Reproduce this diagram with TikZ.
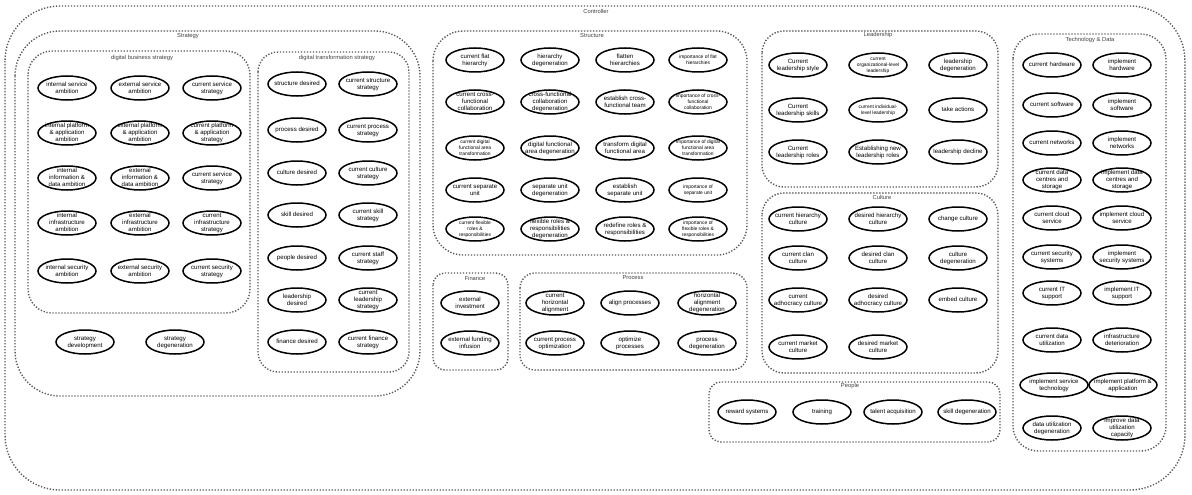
\documentclass[tikz,border=0pt]{standalone}
\usepackage{fontspec}
\setmainfont{Liberation Sans}
\usetikzlibrary{shapes.geometric}

% label of fixed size, centred in the ellipse
\newcommand{\elab}[1]{\raisebox{-0.5ex}[0pt][0pt]{\makebox[0pt]{\begin{tabular}{@{}c@{}}#1\end{tabular}}}}

\begin{document}
\begin{tikzpicture}[x=1pt,y=-1pt]
  \tikzstyle{ell}=[ellipse,draw,line width=1.5pt,minimum width=58pt,minimum height=24pt,inner sep=0pt,font=\fontsize{6.1}{7}\selectfont]
  \tikzstyle{ells}=[ell,font=\fontsize{4.9}{5.8}\selectfont]
  \tikzstyle{grp}=[draw=black!65,line width=1.4pt,dash pattern=on 1.3pt off 1.7pt]
  \tikzstyle{ttl}=[font=\fontsize{5.8}{6}\selectfont,text=black!75,inner sep=0pt]

  \useasboundingbox (0,0) rectangle (1192,495);

  % frames
  \draw[grp,rounded corners=55pt] (5,6) rectangle (1185,490);
  \node[ttl] (tctl) at (596,11) {Controller};
  \draw[grp,rounded corners=45pt] (15,31) rectangle (420,396);
  \node[ttl] (tstr) at (188,36) {Strategy};
  \draw[grp,rounded corners=24pt] (28,51) rectangle (250,313);
  \node[ttl] (tdbs) at (142,58) {digital business strategy};
  \draw[grp,rounded corners=20pt] (258,52) rectangle (409,372);
  \node[ttl] (tdts) at (337,58) {digital transformation strategy};
  \draw[grp,rounded corners=30pt] (433,31) rectangle (747,255);
  \node[ttl] (tstc) at (592,36) {Structure};
  \draw[grp,rounded corners=12pt] (433,273) rectangle (508,370);
  \node[ttl] (tfin) at (475,278) {Finance};
  \draw[grp,rounded corners=15pt] (520,273) rectangle (747,370);
  \node[ttl] (tpro) at (633,278) {Process};
  \draw[grp,rounded corners=22pt] (762,31) rectangle (998,187);
  \node[ttl] (tlea) at (878,35) {Leadership};
  \draw[grp,rounded corners=22pt] (762,193) rectangle (998,373);
  \node[ttl] (tcul) at (882,197) {Culture};
  \draw[grp,rounded corners=12pt] (709,382) rectangle (1000,442);
  \node[ttl] (tppl) at (850,386) {People};
  \draw[grp,rounded corners=25pt] (1013,34) rectangle (1166,451);
  \node[ttl] (ttec) at (1090,40) {Technology \& Data};

  % digital business strategy
  \node[ell] (isa) at (67,88) {\elab{internal service\\ambition}};
  \node[ell] (esa) at (140,88) {\elab{external service\\ambition}};
  \node[ell] (csa) at (212,88) {\elab{current service\\strategy}};
  \node[ell] (ipa) at (67,133) {\elab{internal platform\\\& application\\ambition}};
  \node[ell] (epa) at (140,133) {\elab{external platform\\\& application\\ambition}};
  \node[ell] (cpa) at (212,133) {\elab{current platform\\\& application\\strategy}};
  \node[ell] (iia) at (67,178) {\elab{internal\\information \&\\data ambition}};
  \node[ell] (eia) at (140,178) {\elab{external\\information \&\\data ambition}};
  \node[ell] (css) at (212,178) {\elab{current service\\strategy}};
  \node[ell] (iin) at (67,223) {\elab{internal\\infrastructure\\ambition}};
  \node[ell] (ein) at (140,223) {\elab{external\\infrastructure\\ambition}};
  \node[ell] (cin) at (212,223) {\elab{current\\infrastructure\\strategy}};
  \node[ell] (ise) at (67,271) {\elab{internal security\\ambition}};
  \node[ell] (ese) at (140,271) {\elab{external security\\ambition}};
  \node[ell] (cse) at (212,271) {\elab{current security\\strategy}};

  \node[ell] (sdev) at (85,342) {\elab{strategy\\development}};
  \node[ell] (sdeg) at (175,342) {\elab{strategy\\degeneration}};

  % digital transformation strategy
  \node[ell] (strd) at (297,84) {\elab{structure desired}};
  \node[ell] (cstr) at (368,84) {\elab{current structure\\strategy}};
  \node[ell] (prod) at (297,130) {\elab{process desired}};
  \node[ell] (cpro) at (368,130) {\elab{current process\\strategy}};
  \node[ell] (culd) at (297,173) {\elab{culture desired}};
  \node[ell] (ccul) at (368,173) {\elab{current culture\\strategy}};
  \node[ell] (skid) at (297,215) {\elab{skill desired}};
  \node[ell] (cski) at (368,215) {\elab{current skill\\strategy}};
  \node[ell] (peod) at (297,258) {\elab{people desired}};
  \node[ell] (csta) at (368,258) {\elab{current staff\\strategy}};
  \node[ell] (lead) at (297,300) {\elab{leadership\\desired}};
  \node[ell] (clea) at (368,300) {\elab{current\\leadership\\strategy}};
  \node[ell] (find) at (297,342) {\elab{finance desired}};
  \node[ell] (cfin) at (368,342) {\elab{current finance\\strategy}};

  % structure
  \node[ell] (cfh) at (475,60) {\elab{current flat\\hierarchy}};
  \node[ell] (hdeg) at (550,60) {\elab{hierarchy\\degeneration}};
  \node[ell] (flat) at (625,60) {\elab{flatten\\hierarchies}};
  \node[ells] (ifh) at (698,60) {\elab{importance of flat\\hierarchies}};
  \node[ell] (ccf) at (475,102) {\elab{current cross-\\functional\\collaboration}};
  \node[ell] (cfdeg) at (550,102) {\elab{cross-functional\\collaboration\\degeneration}};
  \node[ell] (ecf) at (625,102) {\elab{establish cross-\\functional team}};
  \node[ells] (icf) at (698,102) {\elab{importance of cross-\\functional\\collaboration}};
  \node[ells] (cdf) at (475,148) {\elab{current digital\\functional area\\transformation}};
  \node[ell] (dfdeg) at (550,148) {\elab{digital functional\\area degeneration}};
  \node[ell] (tdf) at (625,148) {\elab{transform digital\\functional area}};
  \node[ells] (idf) at (698,148) {\elab{importance of digital\\functional area\\transformation}};
  \node[ell] (csu) at (475,190) {\elab{current separate\\unit}};
  \node[ell] (sudeg) at (550,190) {\elab{separate unit\\degeneration}};
  \node[ell] (esu) at (625,190) {\elab{establish\\separate unit}};
  \node[ells] (isu) at (698,190) {\elab{importance of\\separate unit}};
  \node[ells] (cfr) at (475,229) {\elab{current flexible\\roles \&\\responsibilities}};
  \node[ell] (frdeg) at (550,229) {\elab{flexible roles \&\\responsibilities\\degeneration}};
  \node[ell] (rfr) at (625,229) {\elab{redefine roles \&\\responsibilities}};
  \node[ells] (ifr) at (698,229) {\elab{importance of\\flexible roles \&\\responsibilities}};

  % finance and process
  \node[ell] (exinv) at (470,303) {\elab{external\\investment}};
  \node[ell] (exfund) at (470,343) {\elab{external funding\\infusion}};
  \node[ell] (cha) at (555,303) {\elab{current\\horizontal\\alignment}};
  \node[ell] (alp) at (630,303) {\elab{align processes}};
  \node[ell] (hadeg) at (707,303) {\elab{horizontal\\alignment\\degeneration}};
  \node[ell] (cpo) at (555,343) {\elab{current process\\optimization}};
  \node[ell] (opt) at (630,343) {\elab{optimize\\processes}};
  \node[ell] (pdeg) at (707,343) {\elab{process\\degeneration}};

  % leadership
  \node[ell] (cls) at (798,65) {\elab{Current\\leadership style}};
  \node[ells] (col) at (878,65) {\elab{current\\organizational-level\\leadership}};
  \node[ell] (ldeg) at (958,65) {\elab{leadership\\degeneration}};
  \node[ell] (clsk) at (798,110) {\elab{Current\\leadership skills}};
  \node[ells] (cil) at (878,110) {\elab{current individual-\\level leadership}};
  \node[ell] (tact) at (958,110) {\elab{take actions}};
  \node[ell] (clr) at (798,152) {\elab{Current\\leadership roles}};
  \node[ell] (enlr) at (878,152) {\elab{Establishing new\\leadership roles}};
  \node[ell] (ldec) at (958,152) {\elab{leadership decline}};

  % culture
  \node[ell] (chc) at (798,219) {\elab{current hierarchy\\culture}};
  \node[ell] (dhc) at (878,219) {\elab{desired hierarchy\\culture}};
  \node[ell] (chgc) at (958,219) {\elab{change culture}};
  \node[ell] (ccc) at (798,258) {\elab{current clan\\culture}};
  \node[ell] (dcc) at (878,258) {\elab{desired clan\\culture}};
  \node[ell] (cdeg) at (958,258) {\elab{culture\\degeneration}};
  \node[ell] (cac) at (798,300) {\elab{current\\adhocracy culture}};
  \node[ell] (dac) at (878,300) {\elab{desired\\adhocracy culture}};
  \node[ell] (embc) at (958,300) {\elab{embed culture}};
  \node[ell] (cmc) at (798,347) {\elab{current market\\culture}};
  \node[ell] (dmc) at (878,347) {\elab{desired market\\culture}};

  % people
  \node[ell] (rew) at (747,412) {\elab{reward systems}};
  \node[ell] (trn) at (822,412) {\elab{training}};
  \node[ell] (tal) at (893,412) {\elab{talent acquisition}};
  \node[ell] (sdg) at (967,412) {\elab{skill degeneration}};

  % technology & data
  \node[ell] (chw) at (1052,65) {\elab{current hardware}};
  \node[ell] (ihw) at (1122,65) {\elab{implement\\hardware}};
  \node[ell] (csw) at (1052,105) {\elab{current software}};
  \node[ell] (isw) at (1122,105) {\elab{implement\\software}};
  \node[ell] (cnw) at (1052,143) {\elab{current networks}};
  \node[ell] (inw) at (1122,143) {\elab{implement\\networks}};
  \node[ell] (cdc) at (1052,180) {\elab{current data\\centres and\\storage}};
  \node[ell] (idc) at (1122,180) {\elab{implement data\\centres and\\storage}};
  \node[ell] (ccs) at (1052,218) {\elab{current cloud\\service}};
  \node[ell] (ics) at (1122,218) {\elab{implement cloud\\service}};
  \node[ell] (csec) at (1052,257) {\elab{current security\\systems}};
  \node[ell] (isec) at (1122,257) {\elab{implement\\security systems}};
  \node[ell] (cit) at (1052,293) {\elab{current IT\\support}};
  \node[ell] (iit) at (1122,293) {\elab{implement IT\\support}};
  \node[ell] (cdu) at (1052,340) {\elab{current data\\utilization}};
  \node[ell] (idet) at (1122,340) {\elab{infrastructure\\deterioration}};
  \node[ell,minimum width=68pt] (ist) at (1054,385) {\elab{implement service\\technology}};
  \node[ell,minimum width=68pt] (ipla) at (1123,385) {\elab{implement platform \&\\application}};
  \node[ell] (dudeg) at (1052,428) {\elab{data utilization\\degeneration}};
  \node[ell] (idu) at (1122,428) {\elab{improve data\\utilization\\capacity}};
\end{tikzpicture}
\end{document}
